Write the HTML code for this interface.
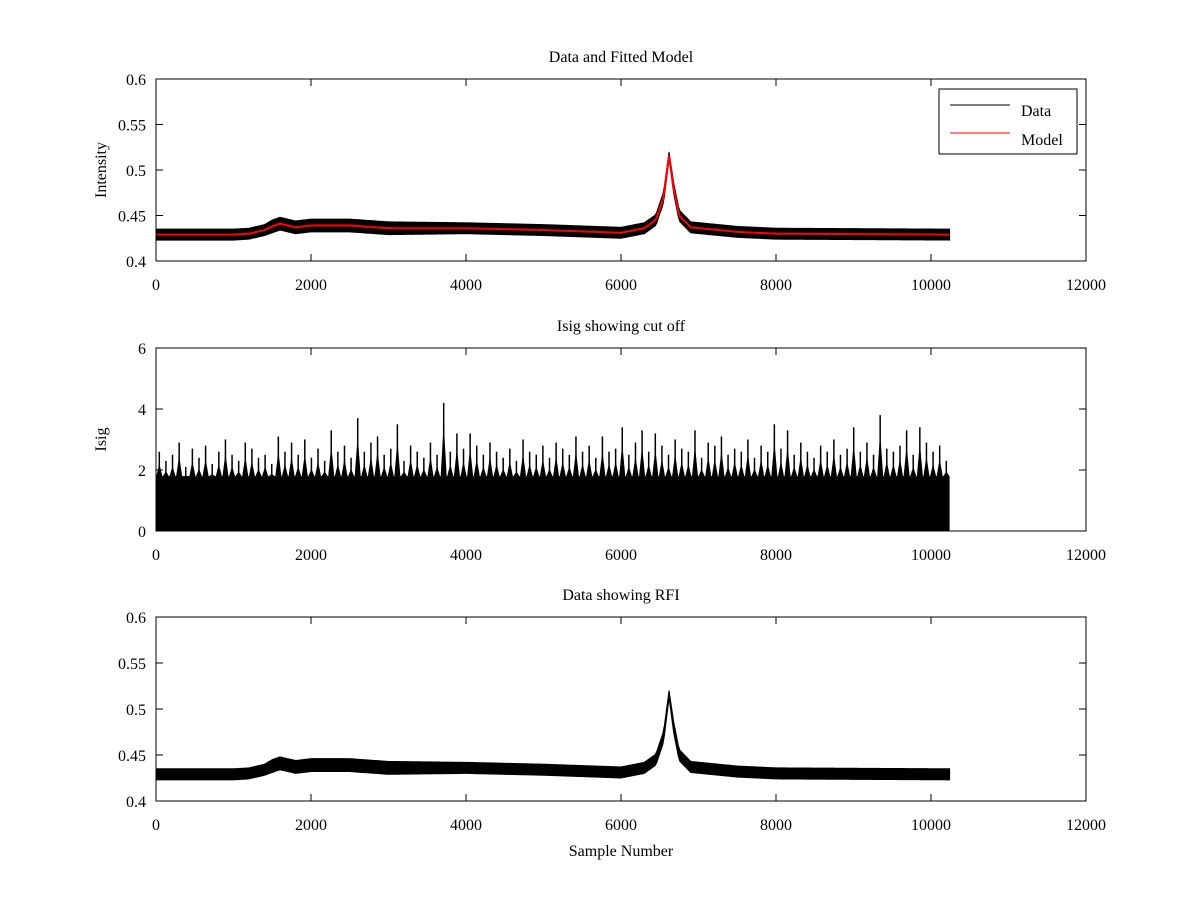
<!DOCTYPE html>
<html><head><meta charset="utf-8"><style>
body{margin:0;background:#fff}
svg text{font-family:"Liberation Serif",serif;font-size:16px;fill:#000}
</style></head><body>
<svg id="fig" width="1200" height="900" viewBox="0 0 1200 900" xmlns="http://www.w3.org/2000/svg">
<rect width="1200" height="900" fill="#fff"/>
</svg>
<script>
const sampleKnots=[0,1000,1200,1400,1500,1600,1800,2000,2500,3000,4000,5000,6000,6300,6450,6550,6620,6680,6750,6900,7500,8000,10240];
const modelVals=[0.429,0.429,0.430,0.434,0.438,0.441,0.437,0.439,0.439,0.436,0.436,0.434,0.431,0.436,0.445,0.47,0.516,0.48,0.45,0.437,0.432,0.430,0.429];
const noiseHalf=[0.006,0.006,0.006,0.006,0.007,0.007,0.007,0.007,0.007,0.007,0.006,0.006,0.006,0.006,0.006,0.006,0.004,0.006,0.006,0.006,0.006,0.006,0.006];
const isigPeaks=[2.6,2.3,2.5,2.9,2.1,2.7,2.4,2.8,2.2,2.6,3.0,2.5,2.3,2.9,2.7,2.4,2.5,2.2,3.1,2.6,2.9,2.5,3.0,2.4,2.7,2.3,3.3,2.6,2.8,2.4,3.7,2.6,2.9,3.1,2.5,2.7,3.5,2.3,2.8,2.6,2.4,2.9,2.5,4.2,2.6,3.2,2.7,3.2,2.8,2.5,2.9,2.6,2.4,2.7,2.3,3.0,2.6,2.5,2.8,2.4,2.9,2.7,2.5,3.1,2.6,2.8,2.4,3.1,2.6,2.7,3.4,2.5,2.9,3.3,2.6,3.2,2.8,2.5,3.0,2.7,2.6,3.3,2.4,2.9,2.8,3.1,2.5,2.7,2.6,3.0,2.4,2.8,2.6,3.5,2.7,3.3,2.5,2.9,2.6,2.4,2.8,2.6,3.0,2.5,2.7,3.4,2.6,2.9,2.5,3.8,2.7,2.6,2.8,3.3,2.5,3.4,2.9,2.6,2.8,2.3];
const xTicks=[0,2000,4000,6000,8000,10000,12000];
const yTicksA=[0.4,0.45,0.5,0.55,0.6];
const yTicksB=[0,2,4,6];
const NS="http://www.w3.org/2000/svg";
const svg=document.getElementById('fig');
function mk(tag,attrs,parent){const e=document.createElementNS(NS,tag);for(const k in attrs)e.setAttribute(k,attrs[k]);(parent||svg).appendChild(e);return e;}
const X0=156,X1=1086;
function xs(v){return X0+(X1-X0)*v/12000;}
function interp(arr,s){for(let i=1;i<sampleKnots.length;i++){if(s<=sampleKnots[i]){const t=(s-sampleKnots[i-1])/(sampleKnots[i]-sampleKnots[i-1]);return arr[i-1]+t*(arr[i]-arr[i-1]);}}return arr[arr.length-1];}
function axes(name,top,bot,ymin,ymax,yt,title,ylabel,fmt){
  const g=mk('g',{});
  
  
  const ys=v=>bot-(bot-top)*(v-ymin)/(ymax-ymin);
  const r=mk('rect',{x:X0,y:top,width:X1-X0,height:bot-top,fill:'#fff',stroke:'none'},g);
  
  
  xTicks.forEach(t=>{const x=xs(t);
    mk('line',{x1:x,x2:x,y1:bot,y2:bot-7,stroke:'#000'},g);mk('line',{x1:x,x2:x,y1:top,y2:top+7,stroke:'#000'},g);
    const tx=mk('text',{x:x,y:bot+29,'text-anchor':'middle'},g);tx.textContent=t;
    
    });
  yt.forEach(t=>{const y=ys(t);
    mk('line',{x1:X0,x2:X0+7,y1:y,y2:y,stroke:'#000'},g);mk('line',{x1:X1,x2:X1-7,y1:y,y2:y,stroke:'#000'},g);
    const tx=mk('text',{x:X0-10,y:y+6,'text-anchor':'end'},g);tx.textContent=fmt(t);
    
    });
  const ti=mk('text',{x:621,y:top-17,'text-anchor':'middle'},g);ti.textContent=title;
  
  
  const yl=mk('text',{x:0,y:0,'text-anchor':'middle',transform:`translate(${X0-50},${(top+bot)/2}) rotate(-90)`},g);yl.textContent=ylabel;
  
  
  return {g,ys};
}
const fmtA=v=>String(+v.toFixed(2));
function dataBand(ax,withModel){
  let up=[],lo=[];
  for(let s=0;s<=10240;s+=20){up.push(xs(s)+','+ax.ys(interp(modelVals,s)+interp(noiseHalf,s)));lo.unshift(xs(s)+','+ax.ys(interp(modelVals,s)-interp(noiseHalf,s)));}
  const p=mk('polygon',{points:up.concat(lo).join(' '),fill:'#000',stroke:'#000','stroke-width':1},ax.g);
  
  
  if(withModel){let pts=[];for(let s=0;s<=10240;s+=20)pts.push(xs(s)+','+ax.ys(interp(modelVals,s)));
    const m=mk('polyline',{points:pts.join(' '),fill:'none',stroke:'#f00','stroke-width':2},ax.g);
    
    }
}
function frame(ax,top,bot){mk('rect',{x:X0,y:top,width:X1-X0,height:bot-top,fill:'none',stroke:'#000'},ax.g);}
const A=axes('top-plot',79,261,0.4,0.6,yTicksA,'Data and Fitted Model','Intensity',fmtA);
dataBand(A,true);frame(A,79,261);
const lg=mk('g',{});


mk('rect',{x:939,y:89,width:138,height:65,fill:'#fff',stroke:'#000'},lg);
mk('line',{x1:950,x2:1010,y1:105,y2:105,stroke:'#000'},lg);
mk('line',{x1:950,x2:1010,y1:133,y2:133,stroke:'#f00'},lg);
const l1=mk('text',{x:1021,y:116},lg);l1.textContent='Data';


const l2=mk('text',{x:1021,y:145},lg);l2.textContent='Model';


const B=axes('middle-plot',348,531,0,6,yTicksB,'Isig showing cut off','Isig',v=>v);
(function(){const N=isigPeaks.length;
  const base=mk('rect',{x:xs(0),y:B.ys(1.8),width:xs(10240)-xs(0),height:B.ys(0)-B.ys(1.8),fill:'#000'},B.g);
  
  
  isigPeaks.forEach((v,i)=>{const x=xs((i+0.5)*10240/N);
    const l=mk('line',{x1:x,x2:x,y1:B.ys(0),y2:B.ys(v),stroke:'#000','stroke-width':1.5},B.g);
    
    
    const l2=mk('polygon',{points:`${x-3},${B.ys(1.8)} ${x},${B.ys(v*0.85)} ${x+3},${B.ys(1.8)}`,fill:'#000'},B.g);
    
    });})();
frame(B,348,531);
const C=axes('bottom-plot',617,801,0.4,0.6,yTicksA,'Data showing RFI','',fmtA);
dataBand(C,false);frame(C,617,801);
const xl=mk('text',{x:621,y:856,'text-anchor':'middle'});xl.textContent='Sample Number';


</script>
</body></html>
